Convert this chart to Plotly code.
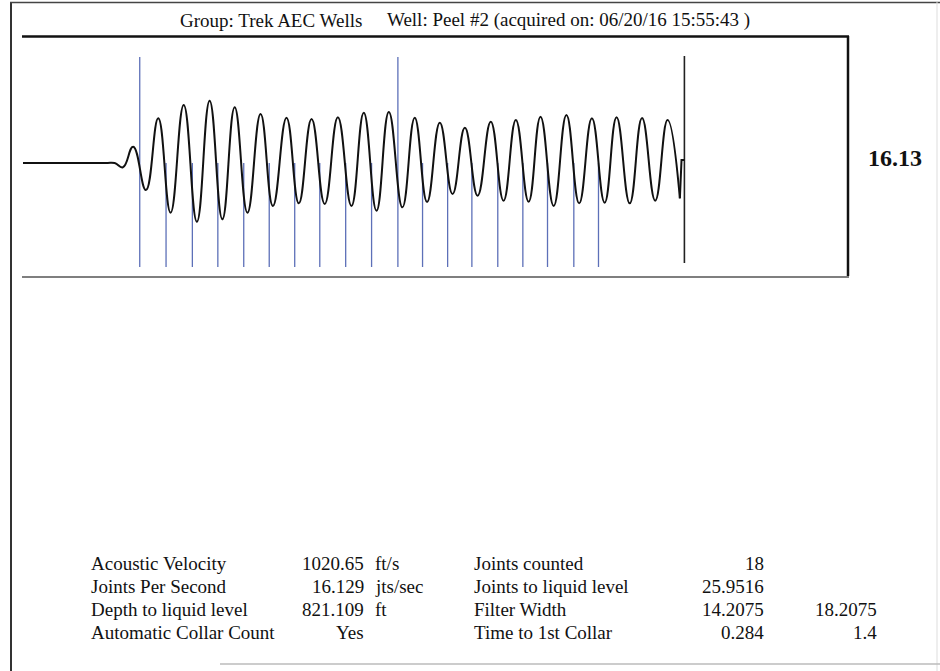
import plotly.graph_objects as go

# ---------------- data ----------------
title_left = "Group: Trek AEC Wells"
title_right = "Well: Peel #2 (acquired on: 06/20/16 15:55:43 )"
jps_label = "16.13"

# acoustic trace: time (s) and amplitude (arb.) at the extrema
wave_t = [0.000, 0.200, 0.223, 0.243, 0.268, 0.299, 0.329, 0.359, 0.391, 0.423,
          0.454, 0.485, 0.515, 0.546, 0.578, 0.608, 0.641, 0.671, 0.702, 0.734,
          0.766, 0.799, 0.829, 0.860, 0.890, 0.923, 0.953, 0.983, 1.014, 1.045,
          1.075, 1.106, 1.138, 1.169, 1.199, 1.230, 1.259, 1.291, 1.322, 1.353,
          1.384, 1.415, 1.444, 1.476, 1.506, 1.538, 1.568, 1.598]
wave_amp = [0, 0, 0, -0.43, 1.63, -2.7, 4.47, -4.97, 5.8, -5.87,
            6.23, -5.63, 5.57, -4.97, 4.9, -4.3, 4.53, -4.03, 4.4, -4.1,
            4.57, -4.3, 5.03, -4.77, 5.1, -4.43, 4.53, -3.9, 4.03, -3.1,
            3.53, -3.27, 4.13, -3.77, 4.3, -3.87, 4.63, -4.3, 4.8, -4.03,
            4.47, -3.97, 4.57, -4.03, 4.5, -3.77, 4.3, -3.53]
tail_t = [1.598, 1.602, 1.609]
tail_amp = [-3.53, 0.3, 0.3]

# collar markers (s)
collar_times = [0.284, 0.348, 0.412, 0.474, 0.537, 0.599, 0.661, 0.722, 0.785,
                0.848, 0.912, 0.972, 1.033, 1.092, 1.155, 1.216, 1.276, 1.340, 1.400]
tall_collars = [0, 10]
collar_bottom = -10.4
collar_top_short = 0.0
collar_top_tall = 10.6

liquid_time = 1.609
liquid_bottom = -10.0
liquid_top = 10.7

# results table
table_labels_1 = ["Acoustic Velocity", "Joints Per Second", "Depth to liquid level", "Automatic Collar Count"]
table_values_1 = ["1020.65", "16.129", "821.109", "Yes"]
table_units_1 = ["ft/s", "jts/sec", "ft", ""]
table_labels_2 = ["Joints counted", "Joints to liquid level", "Filter Width", "Time to 1st Collar"]
table_values_2 = ["18", "25.9516", "14.2075", "0.284"]
table_values_3 = ["", "", "18.2075", "1.4"]

# ---------------- layout geometry ----------------
W, H = 940, 671
L, R, T, B = 23, 848, 37, 277


def px_x(px):
    return (px - L) / (R - L)


def px_y(py):
    return (B - py) / (B - T)


FONT = "Liberation Serif, Times New Roman, serif"
INK = "#111111"
BLUE = "#5d70b8"

fig = go.Figure()

# collar marker lines
cx, cy = [], []
for i, t in enumerate(collar_times):
    top = collar_top_tall if i in tall_collars else collar_top_short
    cx += [t, t, None]
    cy += [collar_bottom, top, None]
fig.add_trace(go.Scatter(x=cx, y=cy, mode="lines",
                         line=dict(color=BLUE, width=1.3), hoverinfo="skip"))

# liquid level line
fig.add_trace(go.Scatter(x=[liquid_time, liquid_time], y=[liquid_bottom, liquid_top],
                         mode="lines", line=dict(color="#222222", width=1.6),
                         hoverinfo="skip"))

# acoustic trace
fig.add_trace(go.Scatter(x=wave_t, y=wave_amp, mode="lines",
                         line=dict(color=INK, width=2, shape="spline", smoothing=1.3),
                         hoverinfo="skip"))
fig.add_trace(go.Scatter(x=tail_t, y=tail_amp, mode="lines",
                         line=dict(color=INK, width=2), hoverinfo="skip"))

shapes = []
# plot frame (top, right thick; bottom thin)
shapes.append(dict(type="line", xref="paper", yref="paper", x0=px_x(22), x1=px_x(849),
                   y0=px_y(36.5), y1=px_y(36.5), line=dict(color=INK, width=2.5)))
shapes.append(dict(type="line", xref="paper", yref="paper", x0=px_x(848), x1=px_x(848),
                   y0=px_y(36), y1=px_y(276), line=dict(color=INK, width=2.5)))
shapes.append(dict(type="line", xref="paper", yref="paper", x0=px_x(22), x1=px_x(849),
                   y0=px_y(277), y1=px_y(277), line=dict(color="#555555", width=1.5)))
# page border
shapes.append(dict(type="line", xref="paper", yref="paper", x0=px_x(11), x1=px_x(11),
                   y0=px_y(2), y1=px_y(671), line=dict(color="#333333", width=2)))
shapes.append(dict(type="line", xref="paper", yref="paper", x0=px_x(10), x1=px_x(940),
                   y0=px_y(2.5), y1=px_y(2.5), line=dict(color="#444444", width=1.5)))
shapes.append(dict(type="line", xref="paper", yref="paper", x0=px_x(937), x1=px_x(937),
                   y0=px_y(2), y1=px_y(671), line=dict(color="#dddddd", width=1)))
shapes.append(dict(type="line", xref="paper", yref="paper", x0=px_x(220), x1=px_x(940),
                   y0=px_y(664), y1=px_y(664), line=dict(color="#bbbbbb", width=1.5)))

ann = []
ann.append(dict(text=title_left, x=px_x(178), y=px_y(20), xanchor="left", yanchor="middle"))
ann.append(dict(text=title_right, x=px_x(385), y=px_y(20), xanchor="left", yanchor="middle"))
ann.append(dict(text="<b>" + jps_label + "</b>", x=px_x(895), y=px_y(158),
                xanchor="center", yanchor="middle", font=dict(size=24, family=FONT, color=INK)))

row_y = [563.5, 586.5, 609.5, 632.5]
for i, yy in enumerate(row_y):
    ann.append(dict(text=table_labels_1[i], x=px_x(89), y=px_y(yy), xanchor="left", yanchor="middle"))
    ann.append(dict(text=table_values_1[i], x=px_x(366), y=px_y(yy), xanchor="right", yanchor="middle"))
    if table_units_1[i]:
        ann.append(dict(text=table_units_1[i], x=px_x(373), y=px_y(yy), xanchor="left", yanchor="middle"))
    ann.append(dict(text=table_labels_2[i], x=px_x(472), y=px_y(yy), xanchor="left", yanchor="middle"))
    ann.append(dict(text=table_values_2[i], x=px_x(766), y=px_y(yy), xanchor="right", yanchor="middle"))
    if table_values_3[i]:
        ann.append(dict(text=table_values_3[i], x=px_x(879), y=px_y(yy), xanchor="right", yanchor="middle"))

for a in ann:
    a.setdefault("font", dict(size=19, family=FONT, color=INK))
    a.update(xref="paper", yref="paper", showarrow=False)

fig.update_layout(
    width=W, height=H,
    margin=dict(l=L, r=W - R, t=T, b=H - B, pad=0, autoexpand=False),
    paper_bgcolor="white", plot_bgcolor="white",
    showlegend=False,
    xaxis=dict(range=[0, 2.007], visible=False, fixedrange=True),
    yaxis=dict(range=[-11.4, 12.6], visible=False, fixedrange=True),
    shapes=shapes, annotations=ann,
)

fig.write_html("out.html", config={"displayModeBar": False},
               post_script="document.body.style.margin='0';document.body.style.overflow='hidden';")
